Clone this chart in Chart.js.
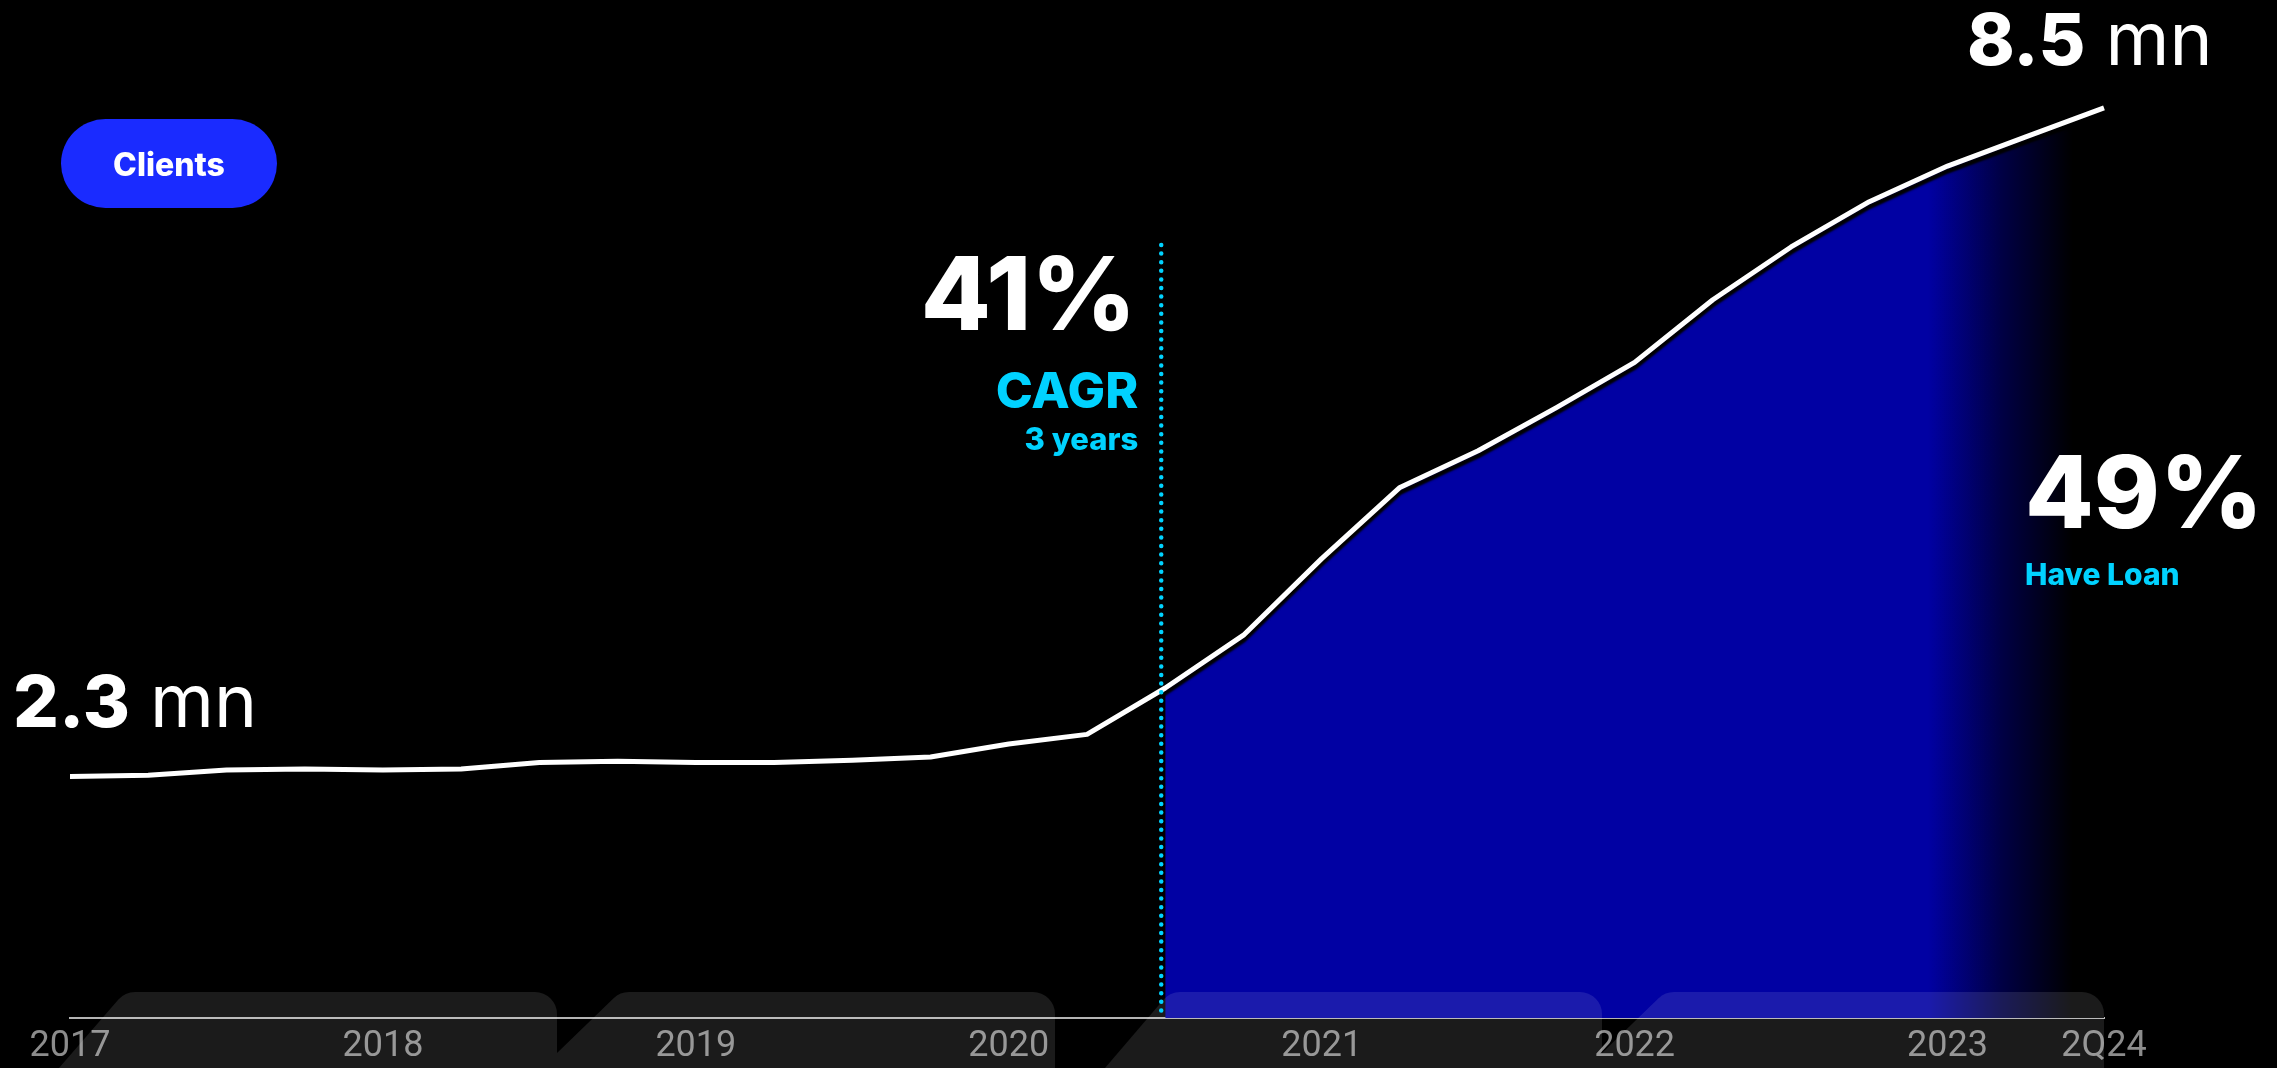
<!DOCTYPE html>
<html>
<head>
<meta charset="utf-8">
<script src="https://cdn.jsdelivr.net/npm/chart.js@4.4.1/dist/chart.umd.min.js"></script>
<style>
  html, body { margin: 0; padding: 0; background: #000; }
  #wrap { width: 2277px; height: 1068px; position: relative; }
</style>
</head>
<body>
<div id="wrap"><canvas id="clientsChart"></canvas></div>
<script>
// client base by quarter, millions
const quarters = [
  '4Q17',
  '1Q18', '2Q18', '3Q18', '4Q18',
  '1Q19', '2Q19', '3Q19', '4Q19',
  '1Q20', '2Q20', '3Q20', '4Q20',
  '1Q21', '2Q21', '3Q21', '4Q21',
  '1Q22', '2Q22', '3Q22', '4Q22',
  '1Q23', '2Q23', '3Q23', '4Q23',
  '1Q24', '2Q24'
];
const tickLabels = [
  '2017', '', '', '', '2018', '', '', '', '2019', '', '', '', '2020',
  '', '', '', '2021', '', '', '', '2022', '', '', '', '2023', '', '2Q24'
];
const clients = [
  2.30, 2.31, 2.36, 2.37, 2.36, 2.37, 2.43, 2.44, 2.43, 2.43, 2.45, 2.48, 2.60,
  2.69, 3.12, 3.61, 4.32, 4.98, 5.32, 5.72, 6.14, 6.72, 7.21, 7.63, 7.96, 8.23, 8.50
];
const cagrStart = '2Q21';
const cagrText = ['41%', 'CAGR', '3 years'];
const loanText = ['49%', 'Have Loan'];

const CYAN = '#00d2ff';
const FILL_BLUE = 'rgb(1, 1, 163)';
const startIdx = quarters.indexOf(cagrStart);

// folder-tab shapes along the bottom: [slant foot x, foot y, slant top x, right edge x]
const tabs = [
  [59, 1068, 125, 557],
  [557, 1053, 620, 1055],
  [1105, 1068, 1170, 1602],
  [1602, 1053, 1665, 2104]
];

const tabsPlugin = {
  id: 'tabs',
  afterDatasetsDraw(chart) {
    const ctx = chart.ctx;
    const top = 992, r = 22, below = 1090;
    ctx.save();
    ctx.fillStyle = 'rgba(255,255,255,0.105)';
    tabs.forEach(([fx, fy, tx, rx]) => {
      ctx.beginPath();
      ctx.moveTo(fx, below);
      ctx.lineTo(fx, fy);
      ctx.arcTo(tx, top, rx, top, r);
      ctx.arcTo(rx, top, rx, below, r);
      ctx.lineTo(rx, below);
      ctx.closePath();
      ctx.fill();
    });

    // dotted marker where the 3-year window starts
    const x = chart.scales.x.getPixelForValue(startIdx) - 4;
    ctx.strokeStyle = CYAN;
    ctx.lineWidth = 4.5;
    ctx.lineCap = 'round';
    ctx.setLineDash([0, 8.6]);
    ctx.beginPath();
    ctx.moveTo(x, 245);
    ctx.lineTo(x, chart.chartArea.bottom);
    ctx.stroke();
    ctx.restore();
  }
};

// dark drop shadow under the white line
const lineShadow = {
  id: 'lineShadow',
  beforeDatasetDraw(chart, args) {
    if (args.index !== 0) return;
    const ctx = chart.ctx;
    ctx.save();
    ctx.shadowColor = '#000';
    ctx.shadowOffsetY = 5;
    ctx.shadowBlur = 2;
  },
  afterDatasetDraw(chart, args) {
    if (args.index === 0) chart.ctx.restore();
  }
};

function drawAmount(ctx, value, x, baseline) {
  ctx.font = '800 72px Inter';
  ctx.fillText(value, x, baseline);
  const w = ctx.measureText(value).width;
  ctx.font = '400 73px Inter';
  ctx.fillText('mn', x + w + 20, baseline);
}

const annotations = {
  id: 'annotations',
  afterDraw(chart) {
    const ctx = chart.ctx;
    const pts = chart.getDatasetMeta(0).data;
    const first = pts[0], last = pts[pts.length - 1];
    const markX = chart.scales.x.getPixelForValue(startIdx) - 4;

    ctx.save();
    // "Clients" pill
    ctx.fillStyle = '#1a2bff';
    ctx.beginPath();
    ctx.roundRect(61, 119, 216, 89, 44.5);
    ctx.fill();
    ctx.fillStyle = '#fff';
    ctx.textAlign = 'center';
    ctx.textBaseline = 'alphabetic';
    ctx.font = '800 32px Inter';
    ctx.fillText('Clients', 169, 176);

    // start and end values
    ctx.textAlign = 'left';
    drawAmount(ctx, clients[0].toFixed(1), first.x - 57, first.y - 49);
    drawAmount(ctx, clients[clients.length - 1].toFixed(1), last.x - 137, last.y - 43);

    // CAGR block, right aligned against the dotted marker
    ctx.textAlign = 'right';
    ctx.fillStyle = '#fff';
    ctx.font = '800 102px Inter';
    ctx.fillText(cagrText[0], markX - 25, 330);
    ctx.fillStyle = CYAN;
    ctx.font = '800 50px Inter';
    ctx.fillText(cagrText[1], markX - 23, 408);
    ctx.font = '800 31px Inter';
    ctx.fillText(cagrText[2], markX - 23, 450);

    // loan share
    ctx.textAlign = 'left';
    ctx.fillStyle = '#fff';
    ctx.font = '800 100px Inter';
    ctx.fillText(loanText[0], 2025, 528);
    ctx.fillStyle = CYAN;
    ctx.font = '800 30px Inter';
    ctx.fillText(loanText[1], 2025, 585);
    ctx.restore();
  }
};

Chart.defaults.font.family = 'Roboto';

new Chart(document.getElementById('clientsChart'), {
  type: 'line',
  data: {
    labels: quarters,
    datasets: [
      {
        label: 'Clients',
        data: clients,
        borderColor: '#ffffff',
        borderWidth: 5,
        borderCapStyle: 'butt',
        borderJoinStyle: 'round',
        tension: 0,
        pointRadius: 0,
        fill: false
      },
      {
        label: 'Clients since 2Q21',
        data: clients.map((v, i) => (i < startIdx ? null : v)),
        borderWidth: 0,
        pointRadius: 0,
        tension: 0,
        spanGaps: false,
        fill: 'origin',
        backgroundColor(context) {
          const { chart } = context;
          const { chartArea, scales } = chart;
          if (!chartArea) return FILL_BLUE;
          const g = chart.ctx.createLinearGradient(
            scales.x.getPixelForValue(23.75), 0,
            scales.x.getPixelForValue(25.6), 0
          );
          g.addColorStop(0, FILL_BLUE);
          g.addColorStop(0.5, 'rgb(0, 0, 70)');
          g.addColorStop(1, 'rgb(0, 0, 0)');
          return g;
        }
      }
    ]
  },
  options: {
    responsive: true,
    maintainAspectRatio: false,
    animation: false,
    layout: { padding: { left: 70, right: 173, top: 0, bottom: 0 } },
    plugins: {
      legend: { display: false },
      tooltip: { enabled: false }
    },
    scales: {
      x: {
        z: 1,
        grid: { display: false, drawTicks: false },
        border: { display: true, color: '#b4b4b4', width: 2 },
        afterFit(scale) { scale.height = 50; },
        ticks: {
          autoSkip: false,
          maxRotation: 0,
          padding: 7,
          color: '#8c8c8c',
          font: { family: 'Roboto', size: 36 },
          callback: (value, index) => tickLabels[index]
        }
      },
      y: {
        display: false,
        min: 0.06,
        max: 9.5
      }
    }
  },
  plugins: [tabsPlugin, lineShadow, annotations]
});
</script>
</body>
</html>
